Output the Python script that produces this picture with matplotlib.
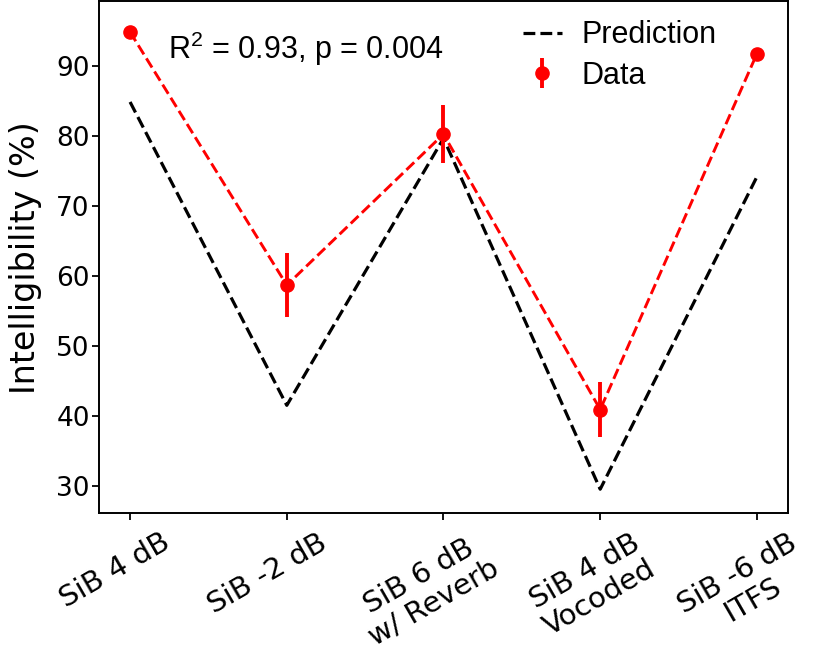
import matplotlib
matplotlib.use('Agg')
import matplotlib.pyplot as plt
import matplotlib.transforms as mtransforms
import numpy as np

plt.rcParams['font.family'] = ['DejaVu Sans']
plt.rcParams['mathtext.fontset'] = 'custom'
plt.rcParams['mathtext.rm'] = 'Liberation Sans'

# conditions on the x axis
conditions = ['SiB 4 dB', 'SiB -2 dB', 'SiB 6 dB\nw/ Reverb', 'SiB 4 dB\nVocoded', 'SiB -6 dB\nITFS']
# model prediction (%)
prediction = [84.9, 41.5, 79.7, 29.5, 74.2]
# measured intelligibility (%) and error
data_mean = [94.9, 58.7, 80.3, 40.9, 91.8]
data_err = [0.7, 4.6, 4.2, 4.0, 0.5]

x = np.arange(len(conditions))

fig = plt.figure(figsize=(8.16, 6.51), dpi=100)
ax = fig.add_axes([0.121, 0.212, 0.845, 0.786])

ax.plot(x, prediction, color='black', linestyle='--', linewidth=2.3, label='Prediction')
ax.plot(x, data_mean, color='red', linestyle='--', linewidth=2.1)
ax.errorbar(x, data_mean, yerr=data_err, color='red', fmt='o', markersize=9.5,
            elinewidth=2.8, capsize=0, label='Data')

ax.set_xlim(-0.2, 4.2)
ax.set_ylim(26.1, 99.3)
ax.set_yticks([30, 40, 50, 60, 70, 80, 90])
ax.set_xticks(x)

ax.tick_params(axis='both', length=5, width=1.3, direction='out')
ax.tick_params(axis='y', labelsize=19, pad=1.5)
ax.tick_params(axis='x', labelsize=21, pad=6)
for sp in ax.spines.values():
    sp.set_linewidth(1.4)

ax.set_xticklabels(conditions, rotation=30, ha='right', va='top',
                   rotation_mode='anchor', multialignment='center', linespacing=1.1)
# shift the rotated labels to the right (after tick_params, which resets transforms)
offset = mtransforms.ScaledTranslation(0.31, 0, fig.dpi_scale_trans)
for lbl in ax.get_xticklabels():
    lbl.set_transform(lbl.get_transform() + offset)

ax.set_ylabel('Intelligibility (%)', fontsize=24, labelpad=10)

ax.text(0.242, 91.1, r'R$^{\mathrm{2}}$ = 0.93, p = 0.004', fontsize=22,
        family='Liberation Sans', va='baseline', ha='left')

ax.legend(loc='upper left', bbox_to_anchor=(0.615, 0.963), frameon=False,
          prop={'family': 'Liberation Sans', 'size': 22},
          handlelength=1.28, handletextpad=0.65, labelspacing=0.34, borderpad=0, borderaxespad=0)

fig.savefig('out.png', dpi=100)
